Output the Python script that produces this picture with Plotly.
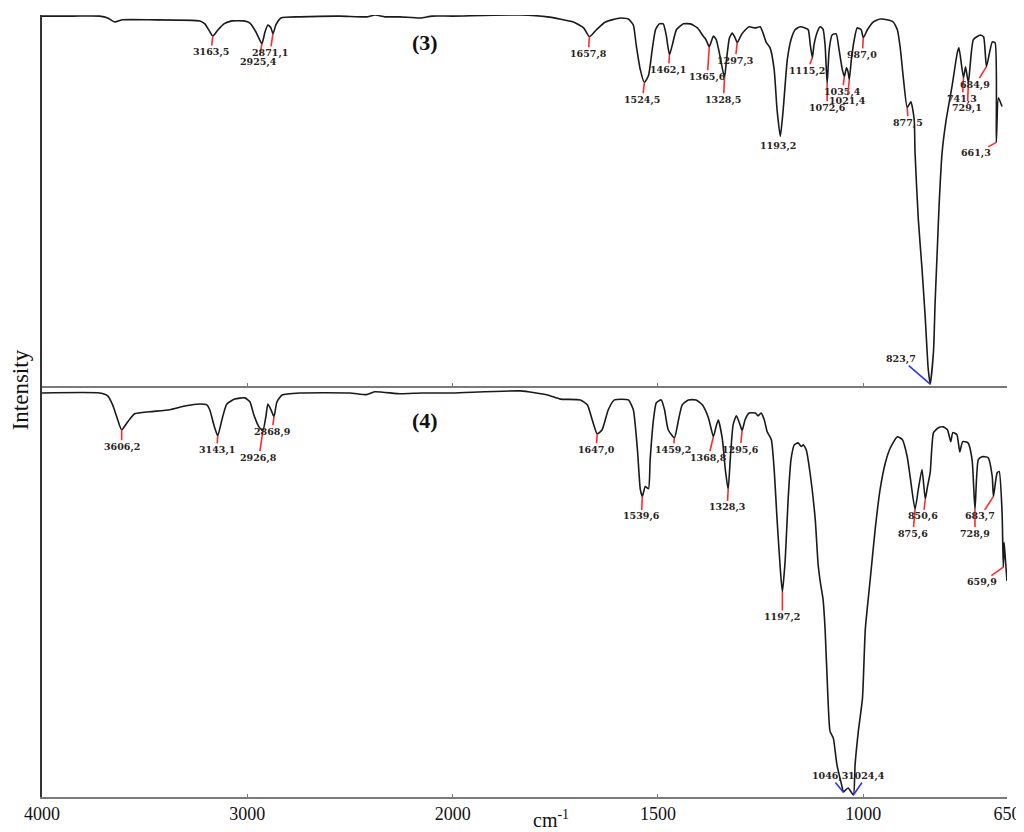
import numpy as np
import plotly.graph_objects as go
from plotly.subplots import make_subplots

# ---------------- data ----------------
# Spectrum (3): wavenumber (cm-1) and relative intensity (0-100)
wn3 = [4000, 3850, 3719, 3680, 3646, 3607, 3475, 3231, 3207, 3187, 3168, 3144, 3114, 3075,
       3017, 2987, 2958, 2929, 2914, 2900, 2885, 2875, 2861, 2836, 2744, 2548, 2420, 2377,
       2330, 2255, 2158, 2100, 2000, 1835, 1769, 1706, 1681, 1667, 1650, 1628, 1592, 1572,
       1560, 1553, 1543, 1533, 1523, 1514, 1506, 1497, 1487, 1480, 1472, 1465, 1455, 1438,
       1421, 1404, 1390, 1383, 1375, 1365, 1358, 1351, 1338, 1333, 1326, 1319, 1312, 1307,
       1297, 1287, 1278, 1263, 1251, 1244, 1236, 1227, 1217, 1210, 1202, 1195, 1185, 1176,
       1166, 1154, 1142, 1134, 1129, 1124, 1120, 1112, 1105, 1098, 1093, 1088, 1083, 1076,
       1066, 1059, 1051, 1046, 1041, 1037, 1034, 1029, 1022, 1015, 1005, 1000, 990, 976,
       959, 942, 927, 917, 910, 902, 893, 884, 876, 874, 866, 857, 849, 842, 837, 829, 825,
       820, 815, 808, 798, 784, 771, 767, 756, 751, 744, 732, 715, 707, 700, 686, 679, 676,
       671, 662]
int3 = [99.7, 99.7, 99.7, 99.2, 98.1, 98.7, 98.7, 98.4, 97.6, 95.9, 94.3, 95.9, 97.6, 98.4,
        98.4, 97.8, 95.4, 92.2, 95.4, 97.3, 96.5, 94.9, 97.3, 99.2, 99.5, 99.7, 99.5, 100.0,
        99.5, 99.5, 99.2, 99.7, 99.7, 100.0, 99.5, 98.1, 96.5, 94.1, 96.0, 98.1, 99.2, 98.9,
        97.3, 91.9, 85.2, 81.7, 83.6, 90.6, 96.0, 97.6, 97.6, 94.6, 89.2, 91.9, 96.0, 97.6,
        97.6, 96.5, 94.3, 93.3, 91.4, 94.3, 93.3, 90.0, 83.0, 87.9, 93.8, 95.1, 93.8, 92.5,
        94.6, 96.0, 96.8, 96.5, 96.8, 95.1, 92.5, 91.1, 85.2, 74.4, 67.1, 74.4, 87.9, 93.3,
        96.0, 96.8, 96.5, 96.0, 91.9, 88.4, 91.9, 95.4, 96.8, 96.2, 91.9, 81.4, 90.6, 94.6,
        94.9, 90.6, 85.2, 83.3, 85.7, 84.6, 82.5, 87.9, 93.3, 96.5, 96.0, 93.8, 96.0, 98.1,
        98.9, 98.7, 98.1, 96.0, 91.1, 82.5, 74.9, 76.5, 71.7, 62.8, 44.7, 31.3, 17.8, 4.3, 0.0,
        8.9, 22.4, 35.8, 49.3, 62.8, 71.7, 80.6, 89.8, 91.1, 83.0, 86.0, 81.7, 93.3, 94.6,
        94.1, 86.0, 92.7, 92.5, 65.5, 77.6, 75.2]

# Spectrum (4)
wn4 = [4000, 3719, 3680, 3656, 3636, 3612, 3583, 3549, 3475, 3378, 3305, 3231, 3197, 3183,
       3163, 3144, 3124, 3100, 3061, 3012, 2987, 2968, 2943, 2924, 2909, 2900, 2885, 2870,
       2856, 2831, 2744, 2500, 2420, 2380, 2255, 2150, 2000, 1835, 1769, 1738, 1689, 1672,
       1660, 1648, 1636, 1621, 1606, 1572, 1560, 1550, 1543, 1538, 1531, 1523, 1519, 1511,
       1504, 1492, 1484, 1475, 1460, 1450, 1441, 1426, 1407, 1392, 1377, 1365, 1358, 1353,
       1343, 1336, 1329, 1324, 1317, 1309, 1300, 1295, 1288, 1278, 1263, 1256, 1249, 1241,
       1234, 1224, 1217, 1210, 1202, 1197, 1190, 1183, 1176, 1168, 1159, 1151, 1146, 1139,
       1129, 1117, 1110, 1105, 1098, 1093, 1086, 1081, 1073, 1064, 1051, 1049, 1037, 1024,
       1020, 1012, 1002, 995, 983, 971, 959, 946, 934, 917, 905, 893, 886, 874, 866, 857,
       849, 844, 837, 829, 817, 805, 795, 787, 782, 772, 765, 758, 745, 735, 728, 720, 711,
       696, 686, 683, 674, 669, 662, 659, 657, 654, 650]
int4 = [98.3, 98.3, 97.6, 95.4, 92.5, 89.3, 91.2, 93.2, 93.7, 94.2, 95.1, 95.6, 95.4, 94.2,
        90.5, 87.8, 91.7, 95.6, 96.8, 97.1, 96.1, 92.9, 90.0, 89.1, 92.7, 95.6, 94.2, 92.5,
        96.1, 97.8, 98.3, 98.3, 97.9, 98.6, 98.1, 98.3, 98.3, 98.8, 97.8, 96.8, 96.6, 95.4,
        91.7, 88.3, 89.3, 94.2, 96.6, 96.6, 94.2, 84.4, 74.7, 73.0, 75.4, 74.9, 82.0, 91.7,
        95.9, 96.6, 94.2, 89.3, 87.3, 91.7, 95.4, 96.6, 96.6, 95.4, 92.2, 87.6, 90.3, 91.7,
        86.9, 79.6, 74.7, 82.0, 90.5, 92.7, 90.5, 89.1, 91.7, 93.4, 93.4, 92.7, 93.4, 91.7,
        88.8, 86.9, 79.6, 67.4, 55.2, 49.6, 57.7, 72.3, 82.0, 85.6, 86.1, 85.2, 85.6, 84.4,
        78.3, 67.4, 56.4, 52.3, 47.9, 40.6, 23.6, 15.6, 13.9, 7.3, 1.7, 0.7, 1.7, 0.0,
        7.3, 15.6, 23.6, 40.6, 52.8, 65.0, 74.7, 81.3, 84.9, 87.6, 86.9, 82.7, 77.9, 69.8, 74.7, 79.6,
        72.3, 75.2, 78.8, 88.6, 89.8, 90.0, 89.3, 86.4, 88.6, 88.1, 83.9, 86.4, 86.1, 82.0, 69.8, 82.0, 82.7,
        82.5, 77.9, 73.0, 78.8, 79.1, 69.1, 55.7, 61.8, 57.7, 52.3]

# Peak positions (as drawn) and their printed labels
peaks3_wn = [3168, 2929, 2875, 1667, 1533, 1472, 1375, 1338, 1307, 1202, 1124, 1088, 1046,
             1034, 1000, 893, 837, 756, 744, 700, 676]
peaks3_lbl = ["3163,5", "2925,4", "2871,1", "1657,8", "1524,5", "1462,1", "1365,6", "1328,5",
              "1297,3", "1193,2", "1115,2", "1072,6", "1035,4", "1021,4", "987,0", "877,5",
              "823,7", "741,3", "729,1", "684,9", "661,3"]
peaks4_wn = [3612, 3144, 2924, 2870, 1648, 1538, 1460, 1365, 1329, 1295, 1197, 1049, 1024,
             874, 849, 728, 683, 659]
peaks4_lbl = ["3606,2", "3143,1", "2926,8", "2868,9", "1647,0", "1539,6", "1459,2", "1368,8",
              "1328,3", "1295,6", "1197,2", "1046,3", "1024,4", "875,6", "850,6", "728,9",
              "683,7", "659,9"]

tick_wn = [4000, 3000, 2000, 1500, 1000, 650]
tick_lbl = ["4000", "3000", "2000", "1500", "1000", "650"]

# ---------------- label placement (pixel offsets, style) ----------------
off3 = [(-2, 16), (-3, 18), (-3, 19), (-1, 17), (-2, 17), (-1, 15), (-2, 30), (-1, 22),
        (-2, 18), (-2, 10), (-5, 13), (0, 24), (-2, 15), (-2, 21), (-1, 17), (1, 15),
        (-29, -25), (-1, 21), (-1, 25), (-11, 18), (-20, 11)]
col3 = ["r"] * 16 + ["b"] + ["r"] * 4
off4 = [(0, 17), (-1, 14), (-4, 27), (-2, 15), (-1, 16), (-1, 20), (-1, 12), (-5, 21),
        (-1, 18), (-2, 19), (0, 25), (-13, -16), (13, -19), (-2, 24), (-2, 17), (0, 24),
        (-13, 20), (-21, 15)]
col4 = ["r"] * 11 + ["b", "b"] + ["r"] * 5
COLORS = {"r": "#ff2a2a", "b": "#2b35ff"}


def xpos(w):
    """Split wavenumber scale: 4000-2000 compressed 2:1 relative to 2000-650."""
    w = np.asarray(w, dtype=float)
    return np.where(w >= 2000, 4000 - w, 2000 + 2 * (2000 - w))


fig = make_subplots(rows=2, cols=1, shared_xaxes=True, vertical_spacing=0,
                    row_heights=[371, 411])

for row, wn, val in [(1, wn3, int3), (2, wn4, int4)]:
    fig.add_trace(go.Scatter(x=xpos(wn), y=val, mode="lines",
                             line=dict(color="#1a1a1a", width=1.6, shape="spline", smoothing=0.5),
                             hoverinfo="skip", showlegend=False), row=row, col=1)

label_font = dict(family="DejaVu Serif", size=9.5, color="#2a2320", weight="bold")

for wn, val, pk, lb, offs, cols, ax_ref, ay_ref in [
        (wn3, int3, peaks3_wn, peaks3_lbl, off3, col3, "x", "y"),
        (wn4, int4, peaks4_wn, peaks4_lbl, off4, col4, "x2", "y2")]:
    order = np.argsort(wn)
    ws = np.asarray(wn, float)[order]
    vs = np.asarray(val, float)[order]
    for p, lb_text, (dx, dy), c in zip(pk, lb, offs, cols):
        yv = float(np.interp(p, ws, vs))
        fig.add_annotation(x=float(xpos(p)), y=yv, xref=ax_ref, yref=ay_ref,
                           text=lb_text, showarrow=True, arrowhead=0, arrowwidth=1.6,
                           arrowcolor=COLORS[c], ax=dx, ay=dy, borderpad=0,
                           font=label_font)

# spectrum tags
fig.add_annotation(x=float(xpos(2135)), y=92.5, xref="x", yref="y", text="<b>(3)</b>",
                   showarrow=False, font=dict(family="Liberation Serif", size=22, color="#111"))
fig.add_annotation(x=float(xpos(2135)), y=91.5, xref="x2", yref="y2", text="<b>(4)</b>",
                   showarrow=False, font=dict(family="Liberation Serif", size=22, color="#111"))

# axis titles
fig.add_annotation(x=0.527, y=0, xref="paper", yref="paper", yshift=-22, yanchor="middle",
                   text="cm<sup>-1</sup>", showarrow=False,
                   font=dict(family="Liberation Serif", size=20, color="#111"))
fig.add_annotation(x=0, y=0.52, xref="paper", yref="paper", xshift=-22, xanchor="center",
                   yanchor="middle", text="Intensity", textangle=-90, showarrow=False,
                   font=dict(family="Liberation Serif", size=23, color="#111"))

xr = [float(xpos(4000)), float(xpos(650))]
common_x = dict(range=xr, tickvals=xpos(tick_wn).tolist(), ticktext=tick_lbl,
                showline=True, linecolor="#7a7a7a", linewidth=1.5, ticks="inside",
                ticklen=3, tickcolor="#7a7a7a", showgrid=False, zeroline=False,
                automargin=False)
fig.update_xaxes(**common_x)
fig.update_xaxes(showticklabels=False, row=1, col=1)
fig.update_xaxes(showticklabels=True, row=2, col=1,
                 tickfont=dict(family="Liberation Serif", size=18, color="#111"))
fig.update_yaxes(range=[-0.5, 100], showline=True, linecolor="#333", linewidth=1.5,
                 showticklabels=False, ticks="", showgrid=False, zeroline=False,
                 automargin=False)

# the page adds an 8px body margin, so the figure is sized/offset to compensate
fig.update_layout(width=1016, height=824, paper_bgcolor="white", plot_bgcolor="white",
                  margin=dict(l=34, r=17, t=7, b=35), showlegend=False)

fig.write_html("out.html")
